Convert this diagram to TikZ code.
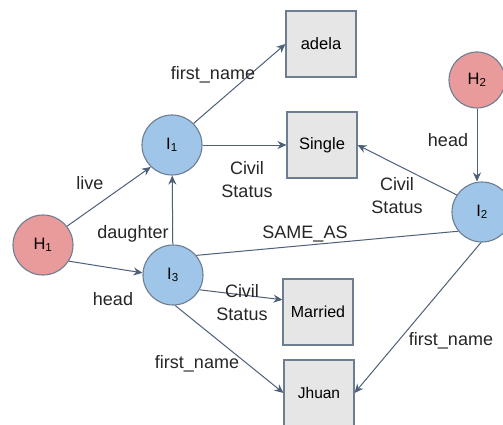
\documentclass[tikz,border=0pt]{standalone}
\usepackage{fontspec}
\setmainfont{Liberation Sans}
\usetikzlibrary{arrows.meta,calc}
\definecolor{redfill}{HTML}{E99A9A}
\definecolor{bluefill}{HTML}{9FC5E8}
\definecolor{boxfill}{HTML}{E6E6E6}
\definecolor{outl}{HTML}{6E7E92}
\definecolor{edgec}{HTML}{4E6079}
\tikzset{
  ent/.style={circle, draw=outl, line width=1.1pt, minimum size=60pt, inner sep=0pt, font=\fontsize{16.5}{16.5}\selectfont},
  redn/.style={ent, fill=redfill},
  bluen/.style={ent, fill=bluefill},
  valbox/.style={rectangle, draw=outl, line width=1.1pt, fill=boxfill, minimum width=70pt, minimum height=66pt, inner sep=0pt, font=\fontsize{16.5}{16.5}\selectfont},
  rel/.style={draw=edgec, line width=1pt, -{Stealth[length=9pt,width=8pt]}},
  lnk/.style={draw=edgec, line width=1pt},
  lab/.style={font=\fontsize{18}{23}\selectfont, align=center, inner sep=0pt, text=black!85}
}
\begin{document}
\begin{tikzpicture}[x=1pt,y=-1pt]
\useasboundingbox (0,0) rectangle (503,425);
\fill[white] (0,0) rectangle (503,425);
% nodes
\node[bluen] (I1) at (172,145) {I\textsubscript{1}};
\node[bluen] (I3) at (173,275) {I\textsubscript{3}};
\node[bluen] (I2) at (482,212) {I\textsubscript{2}};
\node[redn] (H1) at (43,245) {H\textsubscript{1}};
\node[redn, minimum size=56pt] (H2) at (477,80) {H\textsubscript{2}};
\node[valbox] (adela) at (321,44) {adela};
\node[valbox] (single) at (322,145) {Single};
\node[valbox, font=\fontsize{16}{16}\selectfont] (married) at (318,312) {Married};
\node[valbox, font=\fontsize{15.5}{15.5}\selectfont] (jhuan) at (319,393) {Jhuan};
% edges
\draw[rel] (I1.45) -- (adela.west);
\draw[rel] (I1) -- (single);
\draw[rel] (I2.146) -- (single.east);
\draw[rel] (H2) -- (H2 |- I2.north);
\draw[rel] (H1.38) -- (I1.226);
\draw[rel] (H1.-32) -- (I3.176);
\draw[rel] (I3) -- (I1);
\draw[lnk] (I3.40) -- (I2.219);
\draw[rel] (I3.-29) -- (married.161);
\draw[rel] (I3.-86) -- (jhuan.west);
\draw[rel] (I2.-92) -- (jhuan.east);
% labels
\node[lab] (l1) at (213,75) {first\_name};
\node[lab] (l2) at (90,183) {live};
\node[lab] (l3) at (247,180) {Civil\\Status};
\node[lab] (l4) at (397,196) {Civil\\Status};
\node[lab] (l5) at (448,140) {head};
\node[lab] (l6) at (133,234) {daughter};
\node[lab] (l7) at (305,234) {SAME\_AS};
\node[lab] (l8) at (113,299) {head};
\node[lab] (l9) at (242,303) {Civil\\Status};
\node[lab] (l10) at (197,364) {first\_name};
\node[lab] (l11) at (451,341) {first\_name};
\end{tikzpicture}
\end{document}
